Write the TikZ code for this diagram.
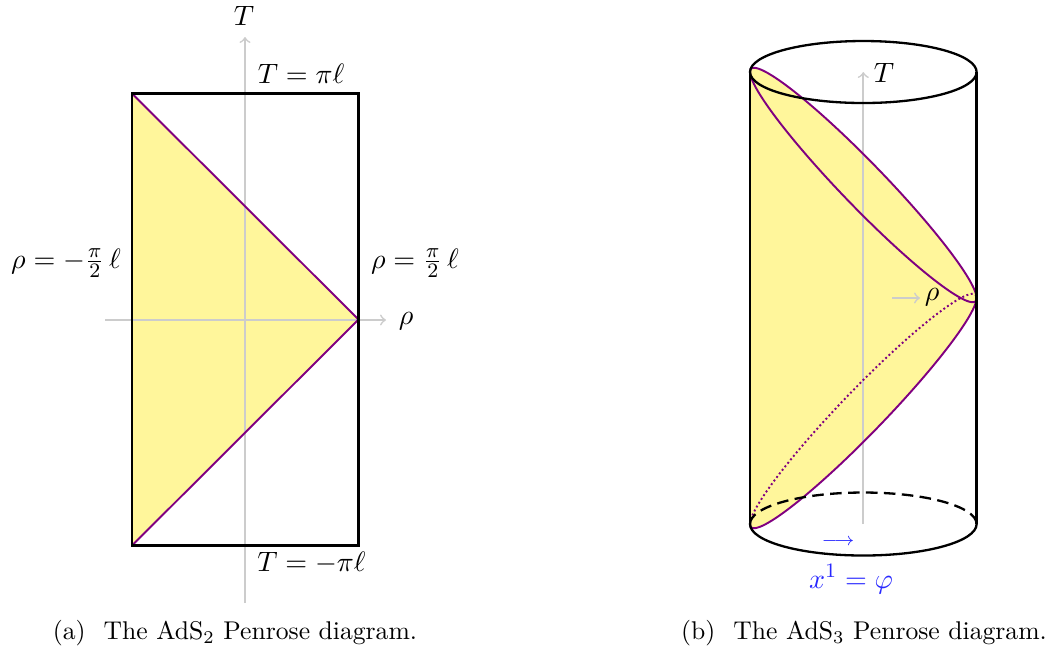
\documentclass[tikz,border=0pt]{standalone}
\usepackage{amsmath}

\begin{document}
\begin{tikzpicture}[x=0.39pt,y=0.39pt,yscale=-1,xscale=1,
	axis/.style={draw={rgb,255:red,204;green,204;blue,204},line width=0.65pt,->},
	wall/.style={draw=black,line width=0.9pt},
	lightray/.style={draw={rgb,255:red,128;green,0;blue,128},line width=0.75pt},
	conefill/.style={fill={rgb,255:red,255;green,246;blue,155}},
	mathlabel/.style={font=\fontsize{11.3pt}{13.5pt}\selectfont},
	bluetext/.style={text={rgb,255:red,40;green,40;blue,255}}]
		
		\useasboundingbox (0,0) rectangle (1054,655);
		
		% ---------------- (a) AdS_2 strip ----------------
		\coordinate (nw) at (132,93.5);
		\coordinate (sw) at (132,545.5);
		\coordinate (se) at (358.5,545.5);
		\coordinate (tip) at (358.5,319.5);
		\coordinate (Tlow) at (245,603);
		\coordinate (Thigh) at (245,37);
		\coordinate (rholow) at (105,320);
		\coordinate (rhohigh) at (386,320);
		
		% Shape: gelbes Dreieck
		\fill [conefill] (nw) -- (tip) -- (sw) -- cycle ;
		
		% Achsen
		\draw [axis] (Tlow) -- (Thigh) ;
		\draw [axis] (rholow) -- (rhohigh) ;
		
		% Lichtstrahlen
		\draw [lightray] (nw) -- (tip) -- (sw) ;
		
		% Shape: Rechteck
		\draw [wall] (nw) rectangle (se) ;
		
		% Text boxes
		\node [mathlabel] (Tname) at (244,16) {$T$};
		\node [mathlabel] (Tup) at (301,74) {$T=\pi\ell$};
		\node [mathlabel] (Tdown) at (311.5,563) {$T=-\pi\ell$};
		\node [mathlabel] (rhominus) at (66,263) {$\rho=-\frac{\pi}{2}\,\ell$};
		\node [mathlabel] (rhoplus) at (415,263) {$\rho=\frac{\pi}{2}\,\ell$};
		\node [mathlabel] (rhoname) at (406,321) {$\rho$};
		\node (capa) at (235,633) {(a)\hspace{7pt}The AdS$_2$ Penrose diagram.};
		
		% ---------------- (b) AdS_3 cylinder ----------------
		\coordinate (cyltop) at (863.3,72);
		\coordinate (cylbot) at (863.3,524);
		\coordinate (rhostart) at (892,298);
		\coordinate (rhoend) at (920,298);
		
		% Shape: gelbe Flaeche
		\fill [conefill] plot [domain=180:0,samples=61,smooth] ({863.3+113.3*cos(\x)},{411-113*cos(\x)+31*sin(\x)})
			-- plot [domain=0:-180,samples=61,smooth] ({863.3+113.3*cos(\x)},{185+113*cos(\x)+31*sin(\x)}) -- cycle ;
		
		% Achsen
		\draw [axis] (cylbot) -- (cyltop) ;
		\draw [axis] (rhostart) -- (rhoend) ;
		
		% Lichtkegel: oben ganz, unten vorne durchgezogen, hinten gepunktet
		\draw [lightray] plot [domain=0:360,samples=121,smooth] ({863.3+113.3*cos(\x)},{185+113*cos(\x)+31*sin(\x)}) -- cycle ;
		\draw [lightray] plot [domain=0:180,samples=61,smooth] ({863.3+113.3*cos(\x)},{411-113*cos(\x)+31*sin(\x)}) ;
		\draw [lightray,densely dotted] plot [domain=180:360,samples=61,smooth] ({863.3+113.3*cos(\x)},{411-113*cos(\x)+31*sin(\x)}) ;
		
		% Shape: Zylinder
		\draw [wall] (cyltop) ellipse [x radius=113.3,y radius=31] ;
		\draw [wall] (750,72) -- (750,524) ;
		\draw [wall] (976.6,72) -- (976.6,524) ;
		\draw [wall] (976.6,524) arc [start angle=0,end angle=180,x radius=113.3,y radius=31.5] ;
		\draw [wall,dash pattern=on 4.5pt off 2.5pt] (750,524) arc [start angle=180,end angle=360,x radius=113.3,y radius=31.5] ;
		
		% Text boxes
		\node [mathlabel] (Tcyl) at (884,73) {$T$};
		\node [mathlabel] (rhocyl) at (932,297) {$\rho$};
		\node [bluetext] (phiarrow) at (838,542) {$\scriptstyle\longrightarrow$};
		\node [mathlabel,bluetext] (phiname) at (851,579) {$x^1=\varphi$};
		\node (capb) at (864,633) {(b)\hspace{7pt}The AdS$_3$ Penrose diagram.};
		
	\end{tikzpicture}
\end{document}
